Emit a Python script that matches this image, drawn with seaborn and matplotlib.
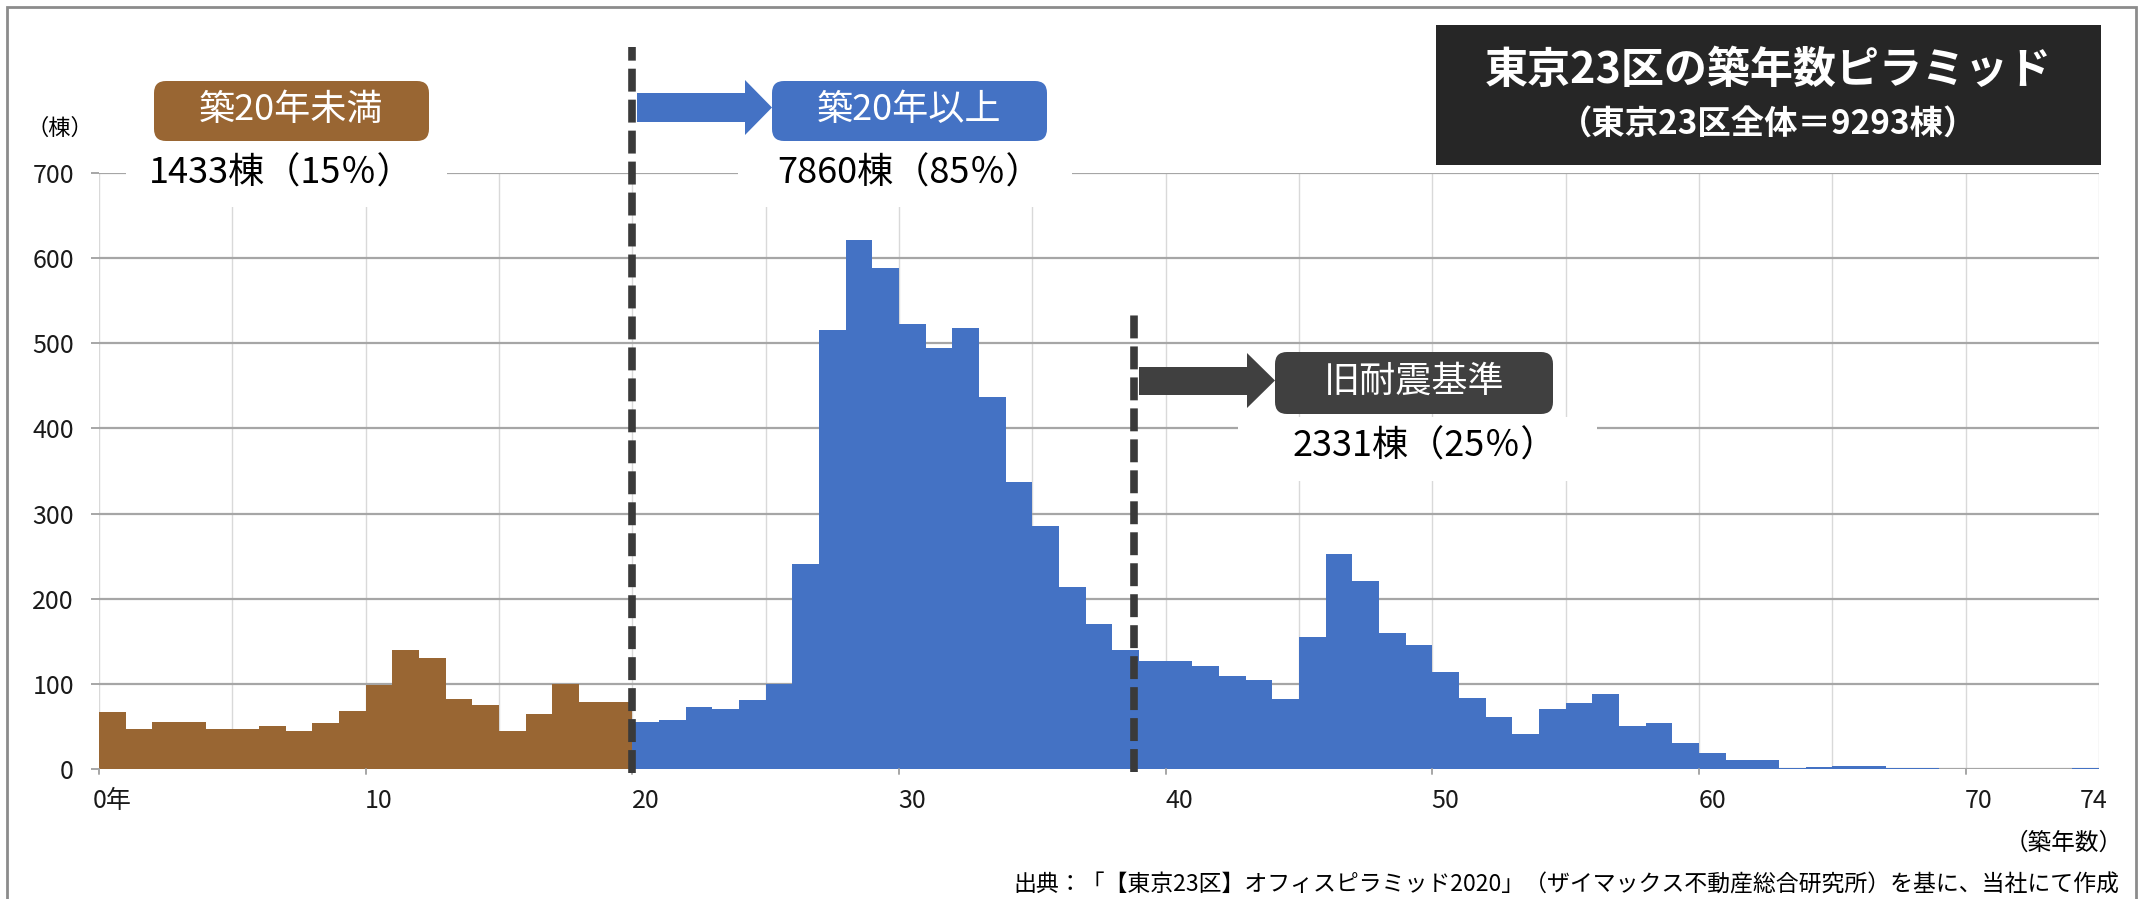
import numpy as np
import pandas as pd
import matplotlib
matplotlib.use('Agg')
import matplotlib.pyplot as plt
import seaborn as sns
from matplotlib.patches import FancyBboxPatch, Rectangle, Polygon

# ---------------- data ----------------
ages = list(range(75))
counts = [67, 47, 55, 55, 47, 47, 50, 45, 54, 68,
          99, 140, 130, 82, 75, 45, 65, 100, 79, 79,
          55, 57, 73, 70, 81, 100, 241, 516, 621, 589,
          523, 495, 518, 437, 337, 285, 214, 170, 140, 127,
          127, 121, 109, 105, 82, 155, 252, 221, 160, 146,
          114, 83, 61, 41, 71, 77, 88, 51, 54, 30,
          19, 11, 10, 1, 2, 3, 3, 1, 1, 0,
          0, 0, 0, 0, 1]
group_labels = ['築20年未満', '築20年以上']
group_colors = ['#996633', '#4472C4']
groups = [group_labels[0] if a < 20 else group_labels[1] for a in ages]
yticks = [0, 100, 200, 300, 400, 500, 600, 700]
xtick_pos = [0.5, 10.5, 20.5, 30.5, 40.5, 50.5, 60.5, 70.5, 74.8]
xtick_labels = ['0年', '10', '20', '30', '40', '50', '60', '70', '74']
title = '東京23区の築年数ピラミッド'
subtitle = '（東京23区全体＝9293棟）'
label_lt20 = '1433棟（15％）'
label_ge20 = '7860棟（85％）'
label_old = '2331棟（25％）'
old_label = '旧耐震基準'
source = '出典：「【東京23区】オフィスピラミッド2020」（ザイマックス不動産総合研究所）を基に、当社にて作成'

df = pd.DataFrame({'age': [a + 0.5 for a in ages], 'count': counts, 'group': groups})

# ---------------- figure ----------------
sns.set_theme(style='white')
plt.rcParams['font.family'] = ['Noto Sans CJK JP', 'DejaVu Sans']

W, H = 2142, 899
fig = plt.figure(figsize=(W / 100, H / 100), dpi=100)
fig.patch.set_facecolor('white')
ax = fig.add_axes([99 / W, 1 - 769 / H, (2099 - 99) / W, (769 - 173) / H])

sns.histplot(data=df, x='age', weights='count', hue='group', binwidth=1, binrange=(0, 75),
             palette=dict(zip(group_labels, group_colors)), hue_order=group_labels,
             multiple='layer', alpha=1, linewidth=0, legend=False, ax=ax)

ax.set_xlim(0, 75)
ax.set_ylim(0, 700)
ax.set_xlabel('')
ax.set_ylabel('')
for s in ax.spines.values():
    s.set_visible(False)
ax.set_axisbelow(True)
ax.set_yticks(yticks)
ax.yaxis.grid(True, color='#a6a6a6', linewidth=1.6)
ax.set_xticks(np.arange(0, 76, 5), minor=False)
ax.xaxis.grid(True, color='#d9d9d9', linewidth=1.0)
ax.set_xticklabels([])
ax.tick_params(axis='x', which='major', length=0)
ax.set_xticks(xtick_pos, minor=True)
ax.set_xticklabels(xtick_labels, minor=True)
ax.tick_params(axis='x', which='minor', length=0, pad=14, labelsize=18, labelcolor='#1a1a1a')
ax.tick_params(axis='y', length=6, color='#a6a6a6', width=1.4, pad=12, labelsize=18,
               labelcolor='#1a1a1a', left=True)
# small tick marks at each decade
for xv in range(0, 71, 10):
    ax.plot([xv, xv], [0, -6], color='#a6a6a6', lw=1.4, clip_on=False, zorder=2)

# dashed lines
lw = 5.5
ax.plot([20, 20], [-5, 848], color='#3a3a3a', lw=lw, dashes=(16.5 / lw, 5.8 / lw),
        clip_on=False, zorder=4, dash_capstyle='butt')
ax.plot([38.8, 38.8], [-4, 540], color='#3a3a3a', lw=lw, dashes=(16.5 / lw, 5.8 / lw),
        clip_on=False, zorder=4, dash_capstyle='butt')

T = fig.dpi_scale_trans


def P(x, y):
    return (x / 100, (H - y) / 100)


def box(x0, y0, x1, y1, color, r=0.12, z=5, rounded=True):
    if rounded:
        p = FancyBboxPatch(P(x0, y1), (x1 - x0) / 100, (y1 - y0) / 100,
                           boxstyle=f'round,pad=0,rounding_size={r}', transform=T,
                           facecolor=color, edgecolor='none', zorder=z)
    else:
        p = Rectangle(P(x0, y1), (x1 - x0) / 100, (y1 - y0) / 100, transform=T,
                      facecolor=color, edgecolor='none', zorder=z)
    fig.add_artist(p)


def arrow(x0, xb, x1, yb0, yb1, yh0, yh1, color):
    ym = (yh0 + yh1) / 2
    pts = [P(x0, yb0), P(xb, yb0), P(xb, yh0), P(x1, ym), P(xb, yh1), P(xb, yb1), P(x0, yb1)]
    fig.add_artist(Polygon(pts, closed=True, transform=T, facecolor=color,
                           edgecolor='none', zorder=5))


def txt(x, y, s, size, color='black', weight='normal', ha='center', va='center'):
    fig.text(x / W, 1 - y / H, s, fontsize=size, color=color, fontweight=weight,
             ha=ha, va=va, zorder=10)


# white covers over gridlines behind labels
box(126, 140, 447, 207, 'white', rounded=False, z=4)
box(738, 140, 1072, 207, 'white', rounded=False, z=4)
box(1238, 417, 1597, 481, 'white', rounded=False, z=4)

# labelled boxes
box(154, 81, 429, 141, '#996633', r=0.12)
box(772, 81, 1047, 141, '#4472C4', r=0.12)
box(1275, 352, 1553, 414, '#404040', r=0.12)
box(1436, 25, 2101, 165, '#262626', rounded=False)

arrow(637, 745, 772, 93, 122, 80, 135, '#4472C4')
arrow(1139, 1247, 1275, 367, 395, 353, 408, '#404040')

txt(291, 110, group_labels[0], 26, 'white')
txt(909, 110, group_labels[1], 26, 'white')
txt(1414, 382, old_label, 26, 'white')
txt(281, 174, label_lt20, 26)
txt(910, 174, label_ge20, 26)
txt(1425, 447, label_old, 26)
txt(1768, 70, title, 31, 'white', 'bold')
txt(1768, 125, subtitle, 24, 'white', 'bold')
txt(60, 128, '（棟）', 16)
txt(2123, 843, '（築年数）', 17, ha='right')
txt(2119, 885, source, 16.5, ha='right')

# outer frame
fig.add_artist(Rectangle(P(7, 905), 2129 / 100, 898 / 100, transform=T, facecolor='none',
                         edgecolor='#8c8c8c', linewidth=2, zorder=11))

fig.savefig('out.png', dpi=100)
